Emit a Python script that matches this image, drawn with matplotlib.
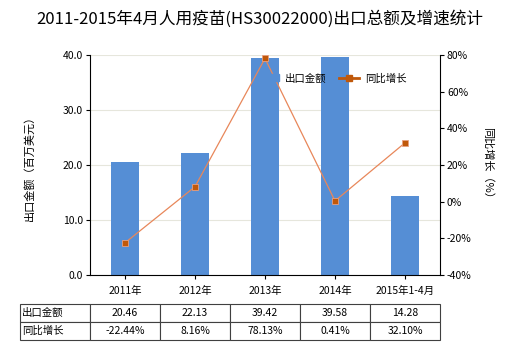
import matplotlib
matplotlib.use("Agg")
import matplotlib.pyplot as plt
from matplotlib.patches import Patch
from matplotlib.lines import Line2D

plt.rcParams['font.family'] = ['Noto Sans CJK SC', 'DejaVu Sans']

years = ['2011年', '2012年', '2013年', '2014年', '2015年1-4月']
export_value = [20.46, 22.13, 39.42, 39.58, 14.28]
yoy_growth = [-22.44, 8.16, 78.13, 0.41, 32.10]
value_labels = ['20.46', '22.13', '39.42', '39.58', '14.28']
growth_labels = ['-22.44%', '8.16%', '78.13%', '0.41%', '32.10%']

bar_color = '#558ed5'
line_color = '#e8875a'
marker_color = '#c0580a'

fig = plt.figure(figsize=(5.2, 3.5), dpi=100)
ax = fig.add_axes([90 / 520, 1 - 275 / 350, 350 / 520, 220 / 350])
x = list(range(len(years)))

ax.bar(x, export_value, width=0.4, color=bar_color, zorder=2)
ax.set_xlim(-0.5, len(years) - 0.5)
ax.set_ylim(0, 40)
ax.set_yticks([0, 10, 20, 30, 40])
ax.set_yticklabels(['0.0', '10.0', '20.0', '30.0', '40.0'])
ax.yaxis.grid(True, color='#e6e6dc', linewidth=0.8, zorder=0)
ax.set_xticks(x)
ax.set_xticklabels(years)
ax.tick_params(axis='both', labelsize=7.5, length=3, width=0.8, pad=2)
ax.tick_params(axis='x', pad=5)
for s in ['top', 'right']:
    ax.spines[s].set_visible(False)
ax.set_ylabel('出口金额（百万美元）', fontsize=8, labelpad=20)

ax2 = ax.twinx()
ax2.plot(x, yoy_growth, color=line_color, linewidth=0.9, zorder=3)
ax2.plot(x, yoy_growth, linestyle='none', marker='s', markersize=4,
         color=marker_color, markeredgecolor='#e8a080', markeredgewidth=0.6, zorder=4)
ax2.set_ylim(-40, 80)
ax2.set_yticks(range(-40, 81, 20))
ax2.set_yticklabels([f'{v}%' for v in range(-40, 81, 20)])
ax2.tick_params(axis='y', labelsize=7.5, length=3, width=0.8, pad=2)
for s in ['top', 'left', 'bottom']:
    ax2.spines[s].set_visible(False)
ax2.set_ylabel('同比增长（%）', fontsize=8, rotation=-90, labelpad=15)

handles = [Patch(color=bar_color),
           Line2D([0], [0], color=marker_color, linewidth=2, marker='s', markersize=4)]
ax2.legend(handles, ['出口金额', '同比增长'], loc='upper right', bbox_to_anchor=(0.93, 0.96),
           ncol=2, frameon=False, fontsize=7.5, handlelength=2, columnspacing=1.2,
           handletextpad=0.5)

fig.suptitle('2011-2015年4月人用疫苗(HS30022000)出口总额及增速统计', x=0.5, y=0.97,
             fontsize=12, va='top')

cells = [['出口金额'] + value_labels, ['同比增长'] + growth_labels]
tab_ax = fig.add_axes([20 / 520, 1 - 340 / 350, 420 / 520, 36 / 350])
tab_ax.axis('off')
table = tab_ax.table(cellText=cells, bbox=[0, 0, 1, 1], cellLoc='center')
table.auto_set_font_size(False)
for (r, c), cell in table.get_celld().items():
    cell.set_edgecolor('#404040')
    cell.set_linewidth(0.8)
    cell.get_text().set_fontsize(7.5)
    if c == 0:
        cell.get_text().set_ha('left')
        cell._loc = 'left'
        cell.PAD = 0.03

fig.savefig('out.png', dpi=100)
